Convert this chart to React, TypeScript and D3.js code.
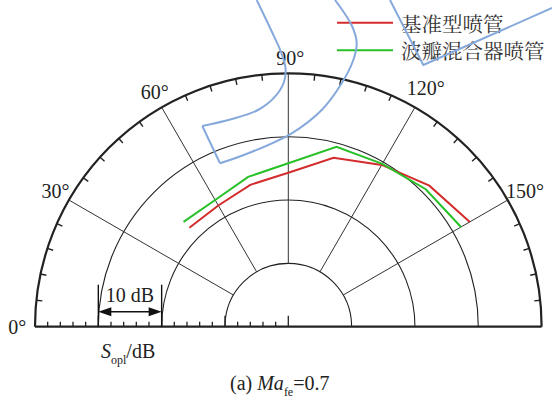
import React, { useEffect, useRef } from 'react';
import * as d3 from 'd3';

// directivity angles (deg, measured from jet axis on the left) and SPL values (dB)
const angles = [45, 60, 75, 90, 105, 120, 135, 150];
const baseNozzle = [82.1, 82.1, 83.2, 84.3, 87.6, 89.5, 91.5, 93.1];
const lobedNozzle = [83.4, 83.1, 84.5, 85.8, 89.4, 89.7, 90.7, 91.5];

const ringLevels = [70, 80, 90, 100];
const spokeAngles = [30, 60, 90, 120, 150];
const angleLabels = [0, 30, 60, 90, 120, 150];
const seriesNames = ['基准型喷管', '波瓣混合器喷管'];
const seriesColors = ['#d42c2c', '#27c027'];

const width = 552;
const height = 399;
const cx = 288.3;
const cy = 326.7;

const serif = '"Liberation Serif", "DejaVu Serif", serif';
const cjk = '"Noto Serif CJK SC", "Noto Sans CJK SC", sans-serif';

export default function App() {
  const ref = useRef<SVGSVGElement>(null);

  useEffect(() => {
    const svg = d3.select(ref.current);
    svg.selectAll('*').remove();

    const r = d3.scaleLinear().domain([60, 100]).range([0, 253.3]);
    const R = r(100);
    const rad = (a: number) => (a * Math.PI) / 180;
    // 0° on the left, 180° on the right
    const pt = (a: number, rr: number) => [-rr * Math.cos(rad(a)), -rr * Math.sin(rad(a))];

    const g = svg.append('g').attr('transform', `translate(${cx},${cy})`);

    // rings
    ringLevels.forEach(v => {
      const p = d3.path();
      p.arc(0, 0, r(v), Math.PI, 2 * Math.PI);
      g.append('path')
        .attr('d', p.toString())
        .attr('fill', 'none')
        .attr('stroke', '#222')
        .attr('stroke-width', v === 100 ? 2.2 : 1.1);
    });

    // spokes
    g.selectAll('line.spoke')
      .data(spokeAngles)
      .join('line')
      .attr('class', 'spoke')
      .attr('x1', d => pt(d, r(70))[0])
      .attr('y1', d => pt(d, r(70))[1])
      .attr('x2', d => pt(d, R)[0])
      .attr('y2', d => pt(d, R)[1])
      .attr('stroke', '#333')
      .attr('stroke-width', 1);

    // ticks on outer arc, every 6°
    const arcTicks = d3.range(6, 180, 6).filter(a => a % 30 !== 0);
    g.selectAll('line.atick')
      .data(arcTicks)
      .join('line')
      .attr('class', 'atick')
      .attr('x1', d => pt(d, R - 6)[0])
      .attr('y1', d => pt(d, R - 6)[1])
      .attr('x2', d => pt(d, R)[0])
      .attr('y2', d => pt(d, R)[1])
      .attr('stroke', '#222')
      .attr('stroke-width', 1.4);

    // baseline
    g.append('line')
      .attr('x1', -R).attr('x2', R)
      .attr('y1', 0).attr('y2', 0)
      .attr('stroke', '#222')
      .attr('stroke-width', 2.2);

    // baseline ticks (left half, every 2 dB)
    g.selectAll('line.btick')
      .data(d3.range(60, 100, 2))
      .join('line')
      .attr('class', 'btick')
      .attr('x1', d => -r(d))
      .attr('x2', d => -r(d))
      .attr('y1', 0)
      .attr('y2', d => (d % 10 === 0 ? -11 : -5))
      .attr('stroke', '#222')
      .attr('stroke-width', 1.3);

    // angle labels
    g.selectAll('text.alab')
      .data(angleLabels)
      .join('text')
      .attr('class', 'alab')
      .attr('x', d => pt(d, 271)[0] + (d === 0 ? 0 : 2))
      .attr('y', d => pt(d, 271)[1] + (d === 120 ? -4 : d === 90 ? 2 : 0))
      .attr('text-anchor', 'middle')
      .attr('dominant-baseline', 'central')
      .attr('font-family', serif)
      .attr('font-size', 20)
      .attr('fill', '#222')
      .text(d => `${d}°`);

    // scale bar 10 dB
    const x0 = -r(90);
    const x1 = -r(80);
    const sb = g.append('g').attr('stroke', '#111').attr('stroke-width', 1.4);
    [x0, x1].forEach(x => sb.append('line').attr('x1', x).attr('x2', x).attr('y1', -42).attr('y2', 0));
    sb.append('line').attr('x1', x0 + 8).attr('x2', x1 - 8).attr('y1', -15).attr('y2', -15);
    g.append('path')
      .attr('d', `M${x0},-15L${x0 + 13},-19.5L${x0 + 13},-10.5Z M${x1},-15L${x1 - 13},-19.5L${x1 - 13},-10.5Z`)
      .attr('fill', '#111');
    g.append('text')
      .attr('x', (x0 + x1) / 2)
      .attr('y', -25)
      .attr('text-anchor', 'middle')
      .attr('font-family', serif)
      .attr('font-size', 20)
      .attr('fill', '#222')
      .text('10 dB');

    // series
    const line = d3.lineRadial<[number, number]>()
      .angle(d => rad(d[0] - 90))
      .radius(d => r(d[1]));
    [baseNozzle, lobedNozzle].forEach((vals, i) => {
      g.append('path')
        .datum(angles.map((a, k) => [a, vals[k]] as [number, number]))
        .attr('d', line)
        .attr('fill', 'none')
        .attr('stroke', seriesColors[i])
        .attr('stroke-width', 2);
    });

    // axis title and caption
    const t1 = svg.append('text')
      .attr('x', 101).attr('y', 358)
      .attr('font-family', serif).attr('font-size', 20).attr('fill', '#222');
    t1.append('tspan').attr('font-style', 'italic').text('S');
    t1.append('tspan').attr('font-size', 12).attr('dy', 6).text('opl');
    t1.append('tspan').attr('dy', -6).text('/dB');

    const t2 = svg.append('text')
      .attr('x', 230).attr('y', 390)
      .attr('font-family', serif).attr('font-size', 20).attr('fill', '#222');
    t2.append('tspan').text('(a) ');
    t2.append('tspan').attr('font-style', 'italic').text('Ma');
    t2.append('tspan').attr('font-size', 12).attr('dy', 6).text('fe');
    t2.append('tspan').attr('dy', -6).text('=0.7');

    // legend
    seriesNames.forEach((name, i) => {
      const y = 22.7 + i * 27.5;
      svg.append('line')
        .attr('x1', 337).attr('x2', 393)
        .attr('y1', y).attr('y2', y)
        .attr('stroke', seriesColors[i])
        .attr('stroke-width', 2);
      svg.append('text')
        .attr('x', 401).attr('y', y)
        .attr('dominant-baseline', 'central')
        .attr('font-family', cjk)
        .attr('font-size', 20.5)
        .attr('fill', '#333')
        .text(name);
    });

    // light-blue hand-drawn overlay present on the source figure
    const smooth = d3.line().curve(d3.curveCatmullRom.alpha(0.5));
    const overlayParts: [number, number][][] = [
      [[256.7, 0], [272, 32], [281, 52], [285.5, 68], [284, 82], [275, 96.7], [258, 110],
        [232, 119], [202.3, 126]],
      [[202.3, 126], [220, 163.3]],
      [[220, 163.3], [248.3, 153.3], [291.7, 133.3], [321.7, 110], [341.7, 83.3],
        [353.3, 60], [356.7, 43.3], [352, 26], [335, 0]],
      [[390, 0], [423.3, 65], [552, 8]],
    ];
    overlayParts.forEach((pts, i) => {
      svg.append('path')
        .attr('d', (i === 1 || i === 3 ? d3.line() : smooth)(pts))
        .attr('fill', 'none')
        .attr('stroke', '#86a9dc')
        .attr('stroke-width', 2)
        .attr('stroke-linejoin', 'round');
    });
  }, []);

  return (
    <svg
      ref={ref}
      width={width}
      height={height}
      style={{ position: 'absolute', left: 0, top: 0, background: '#fff' }}
    />
  );
}
